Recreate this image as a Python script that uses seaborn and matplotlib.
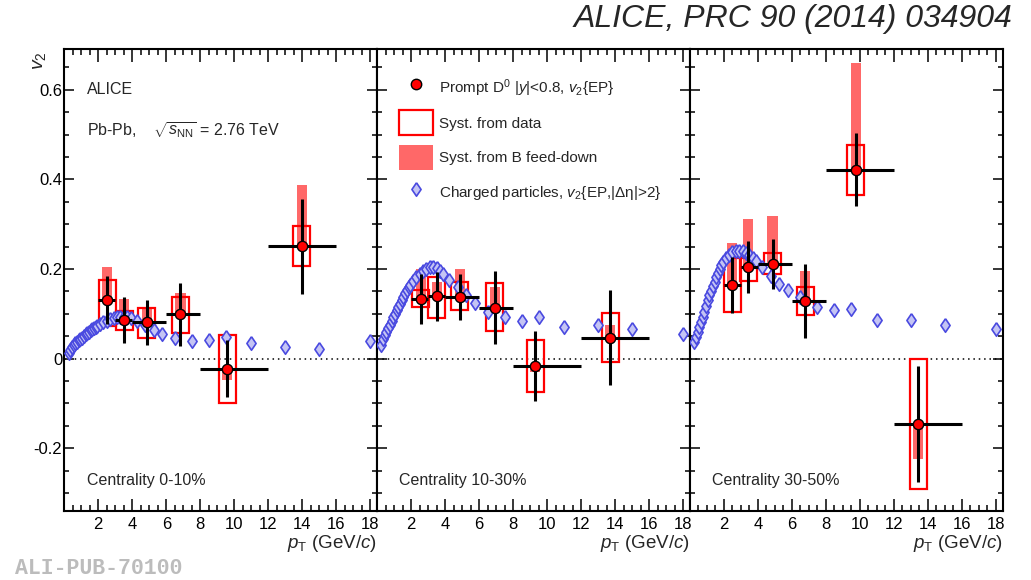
import matplotlib
matplotlib.use("Agg")
import matplotlib.pyplot as plt
import matplotlib.patches as mpatches
from matplotlib.lines import Line2D
from matplotlib.ticker import MultipleLocator, FuncFormatter
import pandas as pd
import seaborn as sns

# ---------------- data ----------------
centralities = ["Centrality 0-10%", "Centrality 10-30%", "Centrality 30-50%"]

# pT bins of the prompt D0 measurement
bin_lo = [2, 3, 4, 6, 8, 12]
bin_hi = [3, 4, 6, 8, 12, 16]

# prompt D0 v2{EP}: central value, stat. error, syst. box (data), B feed-down extreme
d0_pt_010 = [2.53, 3.52, 4.85, 6.83, 9.59, 13.96]
d0_v2_010 = [0.131, 0.086, 0.081, 0.099, -0.022, 0.251]
d0_stat_010 = [0.053, 0.052, 0.050, 0.070, 0.063, 0.106]
d0_sys_lo_010 = [0.072, 0.065, 0.047, 0.058, -0.098, 0.206]
d0_sys_hi_010 = [0.175, 0.106, 0.112, 0.138, 0.053, 0.296]
d0_fd_010 = [0.205, 0.132, 0.116, 0.146, -0.048, 0.387]

d0_pt_1030 = [2.57, 3.51, 4.86, 6.92, 9.30, 13.71]
d0_v2_1030 = [0.133, 0.139, 0.138, 0.114, -0.017, 0.047]
d0_stat_1030 = [0.056, 0.055, 0.052, 0.082, 0.078, 0.106]
d0_sys_lo_1030 = [0.116, 0.090, 0.108, 0.062, -0.074, -0.007]
d0_sys_hi_1030 = [0.153, 0.183, 0.171, 0.169, 0.041, 0.101]
d0_fd_1030 = [0.199, 0.170, 0.200, 0.160, -0.030, 0.075]

d0_pt_3050 = [2.49, 3.44, 4.86, 6.79, 9.76, 13.43]
d0_v2_3050 = [0.164, 0.204, 0.211, 0.129, 0.422, -0.146]
d0_stat_3050 = [0.063, 0.058, 0.055, 0.083, 0.082, 0.129]
d0_sys_lo_3050 = [0.104, 0.174, 0.190, 0.097, 0.365, -0.292]
d0_sys_hi_3050 = [0.224, 0.224, 0.235, 0.160, 0.477, 0.000]
d0_fd_3050 = [0.258, 0.311, 0.318, 0.195, 0.659, -0.223]

# charged particles v2{EP, |delta eta|>2}
ch_pt = [0.25, 0.35, 0.45, 0.55, 0.65, 0.75, 0.85, 0.95, 1.05, 1.15,
         1.25, 1.35, 1.45, 1.55, 1.65, 1.75, 1.85, 1.95, 2.1, 2.3,
         2.5, 2.7, 2.9, 3.1, 3.3, 3.5, 3.7, 3.9, 4.25, 4.75,
         5.25, 5.75, 6.5, 7.5, 8.5, 9.5, 11.0, 13.0, 15.0, 18.0]
ch_v2_010 = [0.012, 0.019, 0.025, 0.030, 0.034, 0.038, 0.041, 0.044, 0.047, 0.050,
             0.054, 0.057, 0.060, 0.063, 0.066, 0.068, 0.071, 0.073, 0.077, 0.082,
             0.085, 0.088, 0.091, 0.093, 0.094, 0.094, 0.093, 0.091, 0.083, 0.074,
             0.065, 0.056, 0.047, 0.039, 0.041, 0.049, 0.034, 0.025, 0.021, 0.040]
ch_v2_1030 = [0.030, 0.043, 0.052, 0.060, 0.068, 0.076, 0.084, 0.092, 0.100, 0.108,
              0.116, 0.123, 0.131, 0.138, 0.146, 0.153, 0.159, 0.165, 0.174, 0.183,
              0.190, 0.196, 0.201, 0.204, 0.205, 0.202, 0.196, 0.188, 0.175, 0.160,
              0.143, 0.124, 0.104, 0.094, 0.085, 0.092, 0.071, 0.075, 0.067, 0.056]
ch_v2_3050 = [0.038, 0.049, 0.060, 0.071, 0.082, 0.093, 0.105, 0.118, 0.130, 0.142,
              0.152, 0.162, 0.172, 0.182, 0.192, 0.200, 0.208, 0.216, 0.224, 0.232,
              0.237, 0.240, 0.241, 0.240, 0.236, 0.231, 0.225, 0.219, 0.205, 0.184,
              0.167, 0.153, 0.138, 0.116, 0.109, 0.110, 0.086, 0.087, 0.075, 0.067]

panels = [
    (d0_pt_010, d0_v2_010, d0_stat_010, d0_sys_lo_010, d0_sys_hi_010, d0_fd_010, ch_v2_010),
    (d0_pt_1030, d0_v2_1030, d0_stat_1030, d0_sys_lo_1030, d0_sys_hi_1030, d0_fd_1030, ch_v2_1030),
    (d0_pt_3050, d0_v2_3050, d0_stat_3050, d0_sys_lo_3050, d0_sys_hi_3050, d0_fd_3050, ch_v2_3050),
]

# ---------------- style ----------------
sns.set_style("ticks")
plt.rcParams["font.family"] = ["Liberation Sans", "DejaVu Sans"]
plt.rcParams["mathtext.fontset"] = "custom"
plt.rcParams["mathtext.rm"] = "Liberation Sans"
plt.rcParams["mathtext.it"] = "Liberation Sans:italic"
plt.rcParams["mathtext.bf"] = "Liberation Sans:bold"

SYS_RED = "#ff0000"
FD_RED = "#ff6868"
CH_FILL = "#c4c4f4"
CH_EDGE = "#4a4ae0"
# ROOT-like diamond, a bit fatter than matplotlib's thin diamond
DIAMOND = [(0, 1), (0.68, 0), (0, -1), (-0.68, 0), (0, 1)]
BOX_HALF = 0.5
FD_HALF = 0.3
XMAX = 18.4
YMIN, YMAX = -0.340, 0.691

fig = plt.figure(figsize=(10.31, 5.80), dpi=100)
W, H = 1031.0, 580.0
panel_left = [64.3, 377.1, 689.9]
panel_w = 312.8
top_px, bot_px = 49.0, 511.0

axes = []
for i, (pt, v2, stat, sys_lo, sys_hi, fd, ch_v2) in enumerate(panels):
    ax = fig.add_axes([panel_left[i] / W, (H - bot_px) / H, panel_w / W, (bot_px - top_px) / H])
    axes.append(ax)

    # B feed-down bands
    for x, y, f in zip(pt, v2, fd):
        ax.add_patch(mpatches.Rectangle((x - FD_HALF, min(y, f)), 2 * FD_HALF, abs(f - y),
                                        facecolor=FD_RED, edgecolor="none", zorder=1))
    # systematic boxes from data
    for x, lo, hi in zip(pt, sys_lo, sys_hi):
        ax.add_patch(mpatches.Rectangle((x - BOX_HALF, lo), 2 * BOX_HALF, hi - lo,
                                        facecolor="none", edgecolor=SYS_RED, lw=1.6, zorder=2))

    ax.axhline(0, color="black", lw=1.1, ls=(0, (1, 2.5)), zorder=1.5)

    ch_df = pd.DataFrame({"pt": ch_pt, "v2": ch_v2})
    sns.scatterplot(data=ch_df, x="pt", y="v2", marker=DIAMOND, s=95, color=CH_FILL,
                    edgecolor=CH_EDGE, linewidth=1.2, ax=ax, zorder=3, legend=False)

    xerr = [[x - lo for x, lo in zip(pt, bin_lo)], [hi - x for x, hi in zip(pt, bin_hi)]]
    ax.errorbar(pt, v2, xerr=xerr, yerr=stat, fmt="none", ecolor="black",
                elinewidth=2.2, capsize=0, zorder=4)
    d0_df = pd.DataFrame({"pt": pt, "v2": v2})
    sns.scatterplot(data=d0_df, x="pt", y="v2", marker="o", s=55, color="red",
                    edgecolor="black", linewidth=1.0, ax=ax, zorder=5, legend=False)

    ax.set_xlim(0, XMAX)
    ax.set_ylim(YMIN, YMAX)
    ax.xaxis.set_major_locator(MultipleLocator(2))
    ax.xaxis.set_minor_locator(MultipleLocator(0.5))
    ax.yaxis.set_major_locator(MultipleLocator(0.2))
    ax.yaxis.set_minor_locator(MultipleLocator(0.05))
    ax.xaxis.set_major_formatter(FuncFormatter(lambda v, p: "" if abs(v) < 1e-9 else f"{v:g}"))
    ax.yaxis.set_major_formatter(FuncFormatter(lambda v, p: f"{round(v, 2):g}"))
    ax.tick_params(which="both", direction="in", top=True, right=True, width=1.1,
                   labelsize=12, colors="black")
    ax.tick_params(axis="x", which="major", length=9, pad=4)
    ax.tick_params(axis="x", which="minor", length=4.5)
    ax.tick_params(axis="y", which="major", length=7, pad=1.5)
    ax.tick_params(axis="y", which="minor", length=3.5)
    if i > 0:
        ax.tick_params(axis="y", labelleft=False)
    for sp in ax.spines.values():
        sp.set_linewidth(1.5)
        sp.set_color("black")

    ax.set_xlabel("$p_{\\rm T}$ (GeV/$c$)", loc="right", fontsize=13.5, labelpad=1)
    ax.set_ylabel("")
    ax.text(0.071, 0.067, centralities[i], transform=ax.transAxes, fontsize=11.5,
            ha="left", va="center")

axes[0].set_ylabel("$v_{2}$", loc="top", fontsize=14)
axes[0].yaxis.set_label_coords(-0.052, 0.995)
axes[0].text(0.071, 0.913, "ALICE", transform=axes[0].transAxes, fontsize=11.5,
             ha="left", va="center")
axes[0].text(0.071, 0.825, "Pb-Pb,    $\\sqrt{s_{\\rm NN}}$ = 2.76 TeV",
             transform=axes[0].transAxes, fontsize=11.5, ha="left", va="center")

handles = [
    Line2D([], [], marker="o", ls="none", mfc="red", mec="black", ms=7.5, mew=1.0),
    mpatches.Patch(facecolor="none", edgecolor=SYS_RED, lw=1.6),
    mpatches.Patch(facecolor=FD_RED, edgecolor="none"),
    Line2D([], [], marker=DIAMOND, ls="none", mfc=CH_FILL, mec=CH_EDGE, ms=9.7, mew=1.2),
]
labels = [
    "Prompt D$^{0}$ |$y$|<0.8, $v_{2}${EP}",
    "Syst. from data",
    "Syst. from B feed-down",
    "Charged particles, $v_{2}${EP,|Δη|>2}",
]
axes[1].legend(handles, labels, loc="upper left", bbox_to_anchor=(0.07, 0.943),
               frameon=False, fontsize=11, handlelength=2.2, handleheight=2.14,
               labelspacing=0.65, handletextpad=0.4, borderpad=0, borderaxespad=0)

fig.text(1012 / W, 1 - 19 / H, "ALICE, PRC 90 (2014) 034904", ha="right", va="center",
         fontsize=23, style="italic")
fig.text(15 / W, 1 - 568 / H, "ALI-PUB-70100", ha="left", va="center", fontsize=15.5,
         family="Liberation Mono", weight="bold", color="#bcbcbc")

fig.savefig("out.png", dpi=100)
